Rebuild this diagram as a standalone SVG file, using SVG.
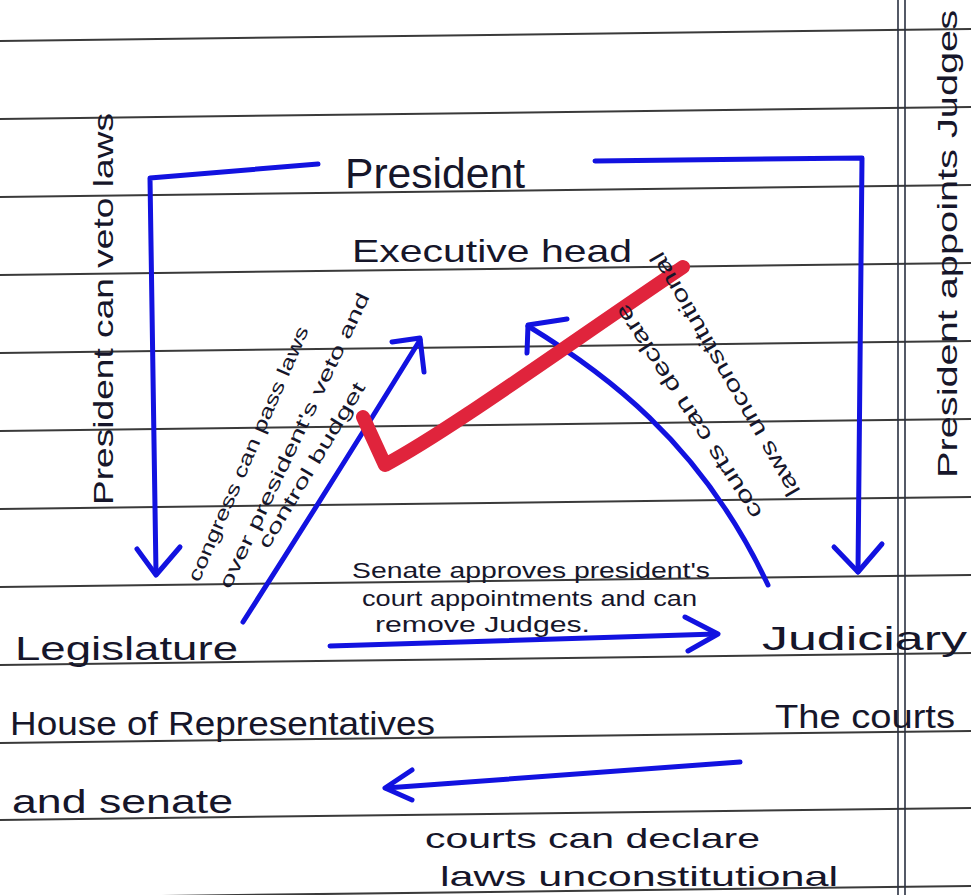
<svg xmlns="http://www.w3.org/2000/svg" width="971" height="895" viewBox="0 0 971 895">
<style>
.rule{stroke:#3a3a3a;stroke-width:2;fill:none}
.margin{stroke:#2a3040;stroke-width:1.6;fill:none}
.blue{stroke:#1212e0;stroke-width:5;fill:none;stroke-linecap:round;stroke-linejoin:round}
.red{stroke:#e0243c;stroke-width:14;fill:none;stroke-linecap:round;stroke-linejoin:round}
text{font-family:"Liberation Sans","DejaVu Sans",sans-serif;fill:#16162a}
.big{font-size:34px}
.mid{font-size:28px}
.small{font-size:22px}
.tiny{font-size:19px}
</style>
<rect width="971" height="895" fill="#ffffff"/>
<g id="paper">
<line class="rule" x1="0" y1="41" x2="971" y2="29"/>
<line class="rule" x1="0" y1="119" x2="971" y2="107"/>
<line class="rule" x1="0" y1="197" x2="971" y2="185"/>
<line class="rule" x1="0" y1="275" x2="971" y2="263"/>
<line class="rule" x1="0" y1="353" x2="971" y2="341"/>
<line class="rule" x1="0" y1="431" x2="971" y2="419"/>
<line class="rule" x1="0" y1="509" x2="971" y2="497"/>
<line class="rule" x1="0" y1="587" x2="971" y2="575"/>
<line class="rule" x1="0" y1="665" x2="971" y2="653"/>
<line class="rule" x1="0" y1="743" x2="971" y2="731"/>
<line class="rule" x1="0" y1="820" x2="971" y2="808"/>
<line class="rule" x1="0" y1="898" x2="971" y2="886"/>
<line class="margin" x1="898" y1="0" x2="898" y2="895"/>
<line class="margin" x1="905" y1="0" x2="905" y2="895"/>
</g>
<g id="connectors">
<path class="blue" d="M318,164 L150,178 L156,573"/>
<path class="blue" d="M137,549 L156,575 L180,547"/>
<path class="blue" d="M595,161 L862,158 L858,572"/>
<path class="blue" d="M834,547 L858,572 L882,544"/>
<path class="blue" d="M243,622 Q335,478 420,340"/>
<path class="blue" d="M392,342 L420,338 L424,372"/>
<path class="blue" d="M768,585 C700,440 600,370 528,326"/>
<path class="blue" d="M567,319 L528,325 L527,353"/>
<path class="blue" d="M330,646 L716,634"/>
<path class="blue" d="M685,617 L718,634 L688,651"/>
<path class="blue" d="M740,762 L386,788"/>
<path class="blue" d="M412,770 L385,788 L412,800"/>
<path class="red" d="M363,417 L385,465 C450,430 560,350 683,267"/>
</g>
<g id="president">
<text x="345" y="188" font-size="42" textLength="180" lengthAdjust="spacingAndGlyphs">President</text>
<text x="352" y="262" font-size="32" textLength="280" lengthAdjust="spacingAndGlyphs">Executive head</text>
</g>
<g id="legislature">
<text class="big" x="15" y="660" textLength="223" lengthAdjust="spacingAndGlyphs">Legislature</text>
<text class="big" x="10" y="735" textLength="425" lengthAdjust="spacingAndGlyphs">House of Representatives</text>
<text class="big" x="12" y="813" textLength="221" lengthAdjust="spacingAndGlyphs">and senate</text>
</g>
<g id="judiciary">
<text class="big" x="762" y="650" textLength="205" lengthAdjust="spacingAndGlyphs">Judiciary</text>
<text class="big" x="775" y="728" textLength="180" lengthAdjust="spacingAndGlyphs">The courts</text>
</g>
<g id="labels">
<text class="mid" transform="translate(113,505) rotate(-90)" textLength="392" lengthAdjust="spacingAndGlyphs">President can veto laws</text>
<text class="mid" transform="translate(957,478) rotate(-90)" textLength="468" lengthAdjust="spacingAndGlyphs">President appoints Judges</text>
<text class="tiny" transform="translate(199,583) rotate(-66.5)" textLength="276" lengthAdjust="spacingAndGlyphs">congress can pass laws</text>
<text class="tiny" transform="translate(230,590) rotate(-64.5)" textLength="325" lengthAdjust="spacingAndGlyphs">over president's veto and</text>
<text class="tiny" transform="translate(268,550) rotate(-59)" textLength="190" lengthAdjust="spacingAndGlyphs">control budget</text>
<text class="small" transform="translate(763,513) rotate(-123)" textLength="251" lengthAdjust="spacingAndGlyphs">courts can declare</text>
<text class="small" transform="translate(801,491) rotate(-120)" textLength="278" lengthAdjust="spacingAndGlyphs">laws unconstitutional</text>
<text class="small" x="352" y="578" textLength="358" lengthAdjust="spacingAndGlyphs">Senate approves president's</text>
<text class="small" x="362" y="606" textLength="335" lengthAdjust="spacingAndGlyphs">court appointments and can</text>
<text class="small" x="375" y="632" textLength="215" lengthAdjust="spacingAndGlyphs">remove Judges.</text>
<text class="mid" x="425" y="848" textLength="335" lengthAdjust="spacingAndGlyphs">courts can declare</text>
<text class="mid" x="440" y="886" textLength="398" lengthAdjust="spacingAndGlyphs">laws unconstitutional</text>
</g>
</svg>
